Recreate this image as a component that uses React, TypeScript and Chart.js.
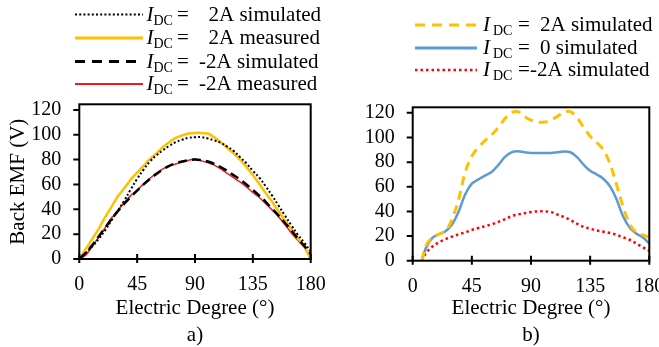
import React, { useEffect, useRef } from 'react';
import { Chart, registerables } from 'chart.js';

Chart.register(...registerables);

// ---------- data: panel a) ----------
const degreesA = [0, 5, 10, 15, 20, 25, 30, 35, 40, 45, 50, 55, 60, 65, 70, 75, 80, 85, 90, 95, 100, 105, 110, 115, 120, 125, 130, 135, 140, 145, 150, 155, 160, 165, 170, 175, 180];
const sim2A = [0, 5, 10, 16, 23, 31, 39, 47, 56, 64.5, 72, 78.5, 83.5, 87.5, 91, 94, 96, 97.5, 98, 98, 97, 95.5, 93.5, 90.5, 87, 82, 77, 71, 65.5, 58.5, 51, 43, 35, 27, 19.5, 13, 6];
const meas2A = [0, 8, 16, 24, 33.5, 42, 50.5, 57, 64, 69.5, 75, 80.5, 85, 90, 94, 97.5, 99.5, 101, 101.5, 101.5, 101, 98, 94, 89.5, 85, 80, 74, 67.5, 60.5, 53, 46, 38.5, 31, 24, 16.5, 10.5, 0];
const simNeg2A = [0, 5, 11, 18, 25, 32, 38.5, 44.5, 50, 55, 60, 64.5, 68.5, 72, 75, 77, 78.5, 79.5, 80, 79.5, 78.5, 76.5, 74, 71, 67.5, 64, 60, 55.5, 51, 46, 40.5, 35, 29, 23, 16.5, 10.5, 4];
const measNeg2A = [0, 3, 10, 17.5, 25, 33, 39, 45.5, 51, 55.5, 60.5, 65, 69, 72.5, 75, 76.5, 78, 79.5, 80.5, 79, 77.5, 75.5, 72.5, 69, 65.5, 62, 58, 53.5, 49.5, 44.5, 39.5, 34, 27.5, 21, 15, 9.5, 0];
const labelsA = ['2A simulated', '2A measured', '-2A simulated', '-2A measured'];

// ---------- data: panel b) ----------
const degreesB = [7, 10, 15, 20, 25, 30, 35, 40, 45, 50, 55, 60, 65, 70, 75, 80, 85, 90, 95, 100, 105, 110, 115, 120, 125, 130, 135, 140, 145, 150, 155, 160, 165, 170, 175, 180];
const simB2A = [0, 12, 19, 21.5, 24, 34, 50, 72, 85, 92, 97.5, 102, 108, 115, 120, 121, 117, 114, 112.5, 112.5, 114, 117, 120.5, 121, 116, 108.5, 101, 96, 90, 79, 62, 44, 30, 23, 21, 19];
const simB0 = [0, 10, 18.5, 21.5, 24, 29.5, 40, 54, 62.5, 66, 69, 72, 77.5, 84, 88, 88.8, 88, 87.5, 87.5, 87.5, 87.5, 88, 88.6, 88, 84, 78, 73, 70, 66.5, 60.5, 50, 36, 27, 22, 19, 14];
const simBNeg2A = [0, 6, 11.5, 15, 17.5, 19.5, 21.5, 23, 25, 26.5, 28, 29.5, 31.5, 33.5, 36, 37.5, 38.5, 39.5, 40, 40, 39.5, 37.5, 35.5, 33, 30, 27.5, 26, 24.5, 23.5, 22.5, 21, 19, 17, 14, 11, 8];
const labelsB = ['2A simulated', '0 simulated', '-2A simulated'];

// ---------- axes ----------
const xTicks = [0, 45, 90, 135, 180];
const yTicks = [0, 20, 40, 60, 80, 100, 120];
const xTitle = 'Electric Degree (°)';
const yTitle = 'Back EMF (V)';

const FONT = '"Liberation Serif", "Times New Roman", serif';
const YELLOW = '#FFC000';
const BLUE = '#5B9BD5';
const RED = '#FF0000';
const RED2 = '#EE1C1C';

const framePlugin = {
  id: 'frame',
  afterDatasetsDraw(chart: any) {
    const { ctx, chartArea } = chart;
    const { left, right, top, bottom } = chartArea;
    const xs = chart.scales.x;
    const ys = chart.scales.y;
    ctx.save();
    ctx.strokeStyle = '#000';
    ctx.lineWidth = 2;
    ctx.setLineDash([]);
    ctx.strokeRect(left, top, right - left, bottom - top);
    ctx.beginPath();
    xs.ticks.forEach((t: any) => {
      const px = xs.getPixelForValue(t.value);
      ctx.moveTo(px, bottom - 5);
      ctx.lineTo(px, bottom + 4);
    });
    ys.ticks.forEach((t: any) => {
      const py = ys.getPixelForValue(t.value);
      ctx.moveTo(left - 6, py);
      ctx.lineTo(left, py);
    });
    ctx.stroke();
    ctx.restore();
  },
};

type Row = { label: string; color: string; width: number; dash: number[]; y: number; valueX: number };
type Geom = { x0: number; x1: number; xI: number; xDC: number; xEq: number };

function legendPlugin(rows: Row[], g: Geom) {
  return {
    id: 'customLegend',
    afterDraw(chart: any) {
      const ctx = chart.ctx;
      ctx.save();
      rows.forEach((r) => {
        ctx.beginPath();
        ctx.setLineDash(r.dash);
        ctx.lineWidth = r.width;
        ctx.strokeStyle = r.color;
        ctx.moveTo(g.x0, r.y);
        ctx.lineTo(g.x1, r.y);
        ctx.stroke();
        ctx.setLineDash([]);
        ctx.fillStyle = '#000';
        ctx.textAlign = 'left';
        ctx.textBaseline = 'alphabetic';
        const base = r.y + 6;
        ctx.font = `italic 21px ${FONT}`;
        ctx.fillText('I', g.xI, base);
        ctx.font = `14px ${FONT}`;
        ctx.fillText('DC', g.xDC, base + 4);
        ctx.font = `21px ${FONT}`;
        ctx.fillText('=', g.xEq, base);
        ctx.fillText(r.label, r.valueX, base);
      });
      ctx.restore();
    },
  };
}

function pts(xs: number[], ys: number[]) {
  return xs.map((x, i) => ({ x, y: ys[i] }));
}

type PanelOpts = {
  datasets: any[];
  padRight: number;
  padTop: number;
  yWidth: number;
  xHeight: number;
  tag: string;
  showYTitle: boolean;
  legend: any;
};

function makeConfig(o: PanelOpts): any {
  return {
    type: 'line',
    data: { datasets: o.datasets },
    options: {
      animation: false,
      responsive: false,
      devicePixelRatio: 1,
      layout: { padding: { left: 0, right: o.padRight, top: o.padTop, bottom: 0 } },
      plugins: { legend: { display: false }, tooltip: { enabled: false } },
      elements: { point: { radius: 0 } },
      scales: {
        x: {
          type: 'linear',
          min: 0,
          max: 180,
          afterBuildTicks: (s: any) => {
            s.ticks = xTicks.map((v) => ({ value: v }));
          },
          afterFit: (s: any) => {
            s.height = o.xHeight;
            s.paddingLeft = 0;
            s.paddingRight = 0;
          },
          grid: { display: false, drawTicks: false },
          border: { display: false },
          ticks: { padding: 14, color: '#000', font: { family: FONT, size: 20 }, maxRotation: 0, autoSkip: false },
          title: {
            display: true,
            text: [xTitle, o.tag],
            color: '#000',
            font: { family: FONT, size: 21, lineHeight: '27px' },
            padding: { top: 0, bottom: 0 },
          },
        },
        y: {
          type: 'linear',
          min: 0,
          max: 124.5,
          afterBuildTicks: (s: any) => {
            s.ticks = yTicks.map((v) => ({ value: v }));
          },
          afterFit: (s: any) => {
            s.width = o.yWidth;
            s.paddingTop = 0;
            s.paddingBottom = 0;
          },
          grid: { display: false, drawTicks: false },
          border: { display: false },
          ticks: { padding: 18, color: '#000', font: { family: FONT, size: 20 }, autoSkip: false },
          title: {
            display: o.showYTitle,
            text: yTitle,
            color: '#000',
            font: { family: FONT, size: 21 },
            padding: { top: 6, bottom: 0 },
          },
        },
      },
    },
    plugins: [framePlugin, o.legend],
  };
}

function Panel({ left, width, height, build }: { left: number; width: number; height: number; build: () => any }) {
  const ref = useRef<HTMLCanvasElement>(null);
  useEffect(() => {
    const chart = new Chart(ref.current as HTMLCanvasElement, build());
    return () => chart.destroy();
  }, []);
  return (
    <canvas
      ref={ref}
      width={width}
      height={height}
      style={{ position: 'absolute', left, top: 0, width, height }}
    />
  );
}

const buildA = () =>
  makeConfig({
    datasets: [
      { label: labelsA[0], data: pts(degreesA, sim2A), borderColor: '#000', borderWidth: 2, borderDash: [2, 2.2], tension: 0.4, fill: false },
      { label: labelsA[2], data: pts(degreesA, simNeg2A), borderColor: '#000', borderWidth: 2.5, borderDash: [9, 5], tension: 0.4, fill: false },
      { label: labelsA[1], data: pts(degreesA, meas2A), borderColor: YELLOW, borderWidth: 2.5, tension: 0.1, fill: false },
      { label: labelsA[3], data: pts(degreesA, measNeg2A), borderColor: RED2, borderWidth: 1.5, tension: 0.1, fill: false },
    ],
    padRight: 19.3,
    padTop: 104.3,
    yWidth: 79.3,
    xHeight: 90,
    tag: 'a)',
    showYTitle: true,
    legend: legendPlugin(
      [
        { label: labelsA[0], color: '#000', width: 2, dash: [2, 2.2], y: 14.5, valueX: 208.5 },
        { label: labelsA[1], color: YELLOW, width: 3, dash: [], y: 38, valueX: 208.5 },
        { label: labelsA[2], color: '#000', width: 3, dash: [10, 7], y: 61.5, valueX: 199 },
        { label: labelsA[3], color: RED2, width: 2, dash: [], y: 84, valueX: 199 },
      ],
      { x0: 75, x1: 143, xI: 146.5, xDC: 153.5, xEq: 177 }
    ),
  });

const buildB = () =>
  makeConfig({
    datasets: [
      { label: labelsB[0], data: pts(degreesB, simB2A), borderColor: YELLOW, borderWidth: 3, borderDash: [9, 6], tension: 0.35, fill: false },
      { label: labelsB[1], data: pts(degreesB, simB0), borderColor: BLUE, borderWidth: 2.5, tension: 0.35, fill: false },
      { label: labelsB[2], data: pts(degreesB, simBNeg2A), borderColor: RED, borderWidth: 2.5, borderDash: [2.5, 3], tension: 0.35, fill: false },
    ],
    padRight: 9.7,
    padTop: 107.3,
    yWidth: 82.7,
    xHeight: 88.3,
    tag: 'b)',
    showYTitle: false,
    legend: legendPlugin(
      [
        { label: labelsB[0], color: YELLOW, width: 3, dash: [10, 7], y: 25, valueX: 210 },
        { label: labelsB[1], color: BLUE, width: 3, dash: [], y: 48, valueX: 210 },
        { label: labelsB[2], color: RED, width: 2.5, dash: [2.5, 3], y: 70, valueX: 200 },
      ],
      { x0: 85, x1: 147, xI: 153, xDC: 163, xEq: 188 }
    ),
  });

export default function App() {
  return (
    <div
      style={{
        position: 'fixed',
        left: 0,
        top: 0,
        width: 659,
        height: 347,
        overflow: 'hidden',
        background: '#fff',
      }}
    >
      <Panel left={0} width={330} height={349} build={buildA} />
      <Panel left={330} width={329} height={349} build={buildB} />
    </div>
  );
}
